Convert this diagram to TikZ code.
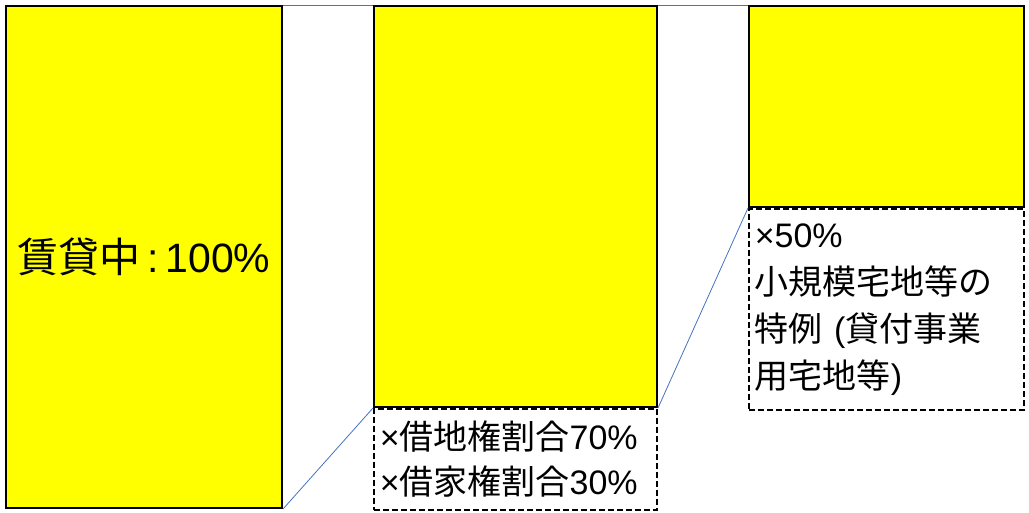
\documentclass[tikz,border=0pt]{standalone}
\usepackage{fontspec}
\setmainfont{Noto Sans CJK JP}
\newfontfamily\latin{Liberation Sans}
\usetikzlibrary{positioning}
\definecolor{linkblue}{HTML}{4472C4}
\definecolor{barfill}{RGB}{255,255,0}
\tikzset{
  bar/.style={draw=black, line width=2pt, fill=barfill, inner sep=0pt, anchor=north west},
  note/.style={draw=black, line width=1.6pt, dash pattern=on 6pt off 3pt, inner sep=6pt, anchor=north west, align=left},
  link/.style={draw=linkblue, line width=0.8pt}
}
\begin{document}
\begin{tikzpicture}[x=1pt,y=-1pt]
		\useasboundingbox (0,0) rectangle (1029,512);
		%%%%% BARS %%%%%
		\node[bar, minimum width=276pt, minimum height=502pt, font=\fontsize{41}{48}\selectfont]
		  (rent) at (5,5) {賃貸中{\latin\,:\,100\%}};
		\node[bar, minimum width=283pt, minimum height=401pt] (land) at (373,5) {};
		\node[bar, minimum width=275pt, minimum height=201pt] (small) at (748,5) {};
		
		%%%%% NOTES %%%%%
		\node[note, minimum width=283pt, minimum height=101pt, text width=271pt,
		  font=\fontsize{34}{45}\selectfont] (landnote) at (land.south west)
		  {{\latin ×}借地権割合{\latin 70\%}\\{\latin ×}借家権割合{\latin 30\%}};
		\node[note, minimum width=275pt, minimum height=201pt, text width=263pt,
		  font=\fontsize{34}{47}\selectfont] (smallnote) at (small.south west)
		  {{\latin ×50\%}\\小規模宅地等の\\特例{\latin\ (}貸付事業\\用宅地等{\latin )}};
		
		%%%%% LINKS %%%%%
		\draw[link] (rent.north east) -- (land.north west);
		\draw[link] (rent.south east) -- (land.south west);
		\draw[link] (land.north east) -- (small.north west);
		\draw[link] (land.south east) -- (small.south west);
	\end{tikzpicture}
\end{document}
